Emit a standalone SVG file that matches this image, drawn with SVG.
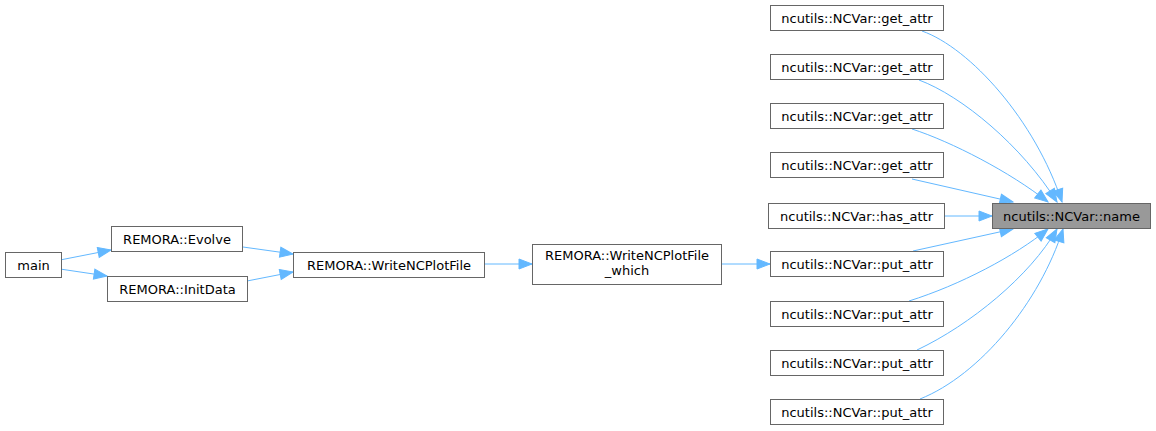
<svg xmlns="http://www.w3.org/2000/svg" width="1156" height="431" viewBox="0 0 1156 431">
<style>
.box{fill:#ffffff;stroke:#666666;stroke-width:1}
.hl{fill:#999999;stroke:#666666;stroke-width:1}
text{font-family:"DejaVu Sans","Liberation Sans",sans-serif;font-size:13px;fill:#000000;text-anchor:middle}
.edge{fill:none;stroke:#63b8ff;stroke-width:1;marker-end:url(#ah)}
</style>
<defs>
<marker id="ah" markerUnits="userSpaceOnUse" markerWidth="14" markerHeight="11" refX="13" refY="5" orient="auto" overflow="visible">
<path d="M0,0 L13,5 L0,10 z" fill="#63b8ff" stroke="#63b8ff" stroke-width="1"/>
</marker>
</defs>
<rect width="1156" height="431" fill="#ffffff"/>
<g id="connectors">
<path class="edge" d="M60,260 L111,250"/>
<path class="edge" d="M60,269 L107,276"/>
<path class="edge" d="M243,247 L293,254"/>
<path class="edge" d="M247,281 L293,272"/>
<path class="edge" d="M484,264 L532,264"/>
<path class="edge" d="M721,264 L770,264"/>
<path class="edge" d="M922,31 C970,48 1035,120 1062,202"/>
<path class="edge" d="M919,80 C962,96 1022,146 1057,202"/>
<path class="edge" d="M912,129 C952,142 1010,172 1048,202"/>
<path class="edge" d="M912,179 L1013,202"/>
<path class="edge" d="M944,216 L992,216"/>
<path class="edge" d="M913,251 L1013,229"/>
<path class="edge" d="M909,301 C960,285 1015,256 1048,229"/>
<path class="edge" d="M917,350 C970,325 1030,276 1057,229"/>
<path class="edge" d="M920,399 C980,375 1040,302 1063,229"/>
</g>
<g id="node-main"><rect class="box" x="5.5" y="252.5" width="56" height="25"/><text x="33.5" y="269.5">main</text></g>
<g id="node-evolve"><rect class="box" x="111.5" y="226.5" width="131" height="25"/><text x="177" y="243.5">REMORA::Evolve</text></g>
<g id="node-initdata"><rect class="box" x="107.5" y="276.5" width="140" height="25"/><text x="177.5" y="293.5">REMORA::InitData</text></g>
<g id="node-writencplotfile"><rect class="box" x="293.5" y="252.5" width="191" height="25"/><text x="389" y="269.5">REMORA::WriteNCPlotFile</text></g>
<g id="node-writencplotfile-which"><rect class="box" x="532.5" y="244.5" width="189" height="40"/><text x="627" y="260">REMORA::WriteNCPlotFile</text><text x="627" y="275">_which</text></g>
<g id="node-get-attr-1"><rect class="box" x="770.5" y="5.5" width="173" height="25"/><text x="857" y="22.5">ncutils::NCVar::get_attr</text></g>
<g id="node-get-attr-2"><rect class="box" x="770.5" y="54.5" width="173" height="25"/><text x="857" y="71.5">ncutils::NCVar::get_attr</text></g>
<g id="node-get-attr-3"><rect class="box" x="770.5" y="103.5" width="173" height="25"/><text x="857" y="120.5">ncutils::NCVar::get_attr</text></g>
<g id="node-get-attr-4"><rect class="box" x="770.5" y="152.5" width="173" height="25"/><text x="857" y="169.5">ncutils::NCVar::get_attr</text></g>
<g id="node-has-attr"><rect class="box" x="768.5" y="203.5" width="176" height="25"/><text x="856.5" y="220.5">ncutils::NCVar::has_attr</text></g>
<g id="node-put-attr-1"><rect class="box" x="770.5" y="251.5" width="173" height="25"/><text x="857" y="268.5">ncutils::NCVar::put_attr</text></g>
<g id="node-put-attr-2"><rect class="box" x="770.5" y="301.5" width="173" height="25"/><text x="857" y="318.5">ncutils::NCVar::put_attr</text></g>
<g id="node-put-attr-3"><rect class="box" x="770.5" y="350.5" width="173" height="25"/><text x="857" y="367.5">ncutils::NCVar::put_attr</text></g>
<g id="node-put-attr-4"><rect class="box" x="770.5" y="399.5" width="173" height="25"/><text x="857" y="416.5">ncutils::NCVar::put_attr</text></g>
<g id="node-name"><rect class="hl" x="992.5" y="203.5" width="158" height="25"/><text x="1071.5" y="220.5">ncutils::NCVar::name</text></g>
</svg>
